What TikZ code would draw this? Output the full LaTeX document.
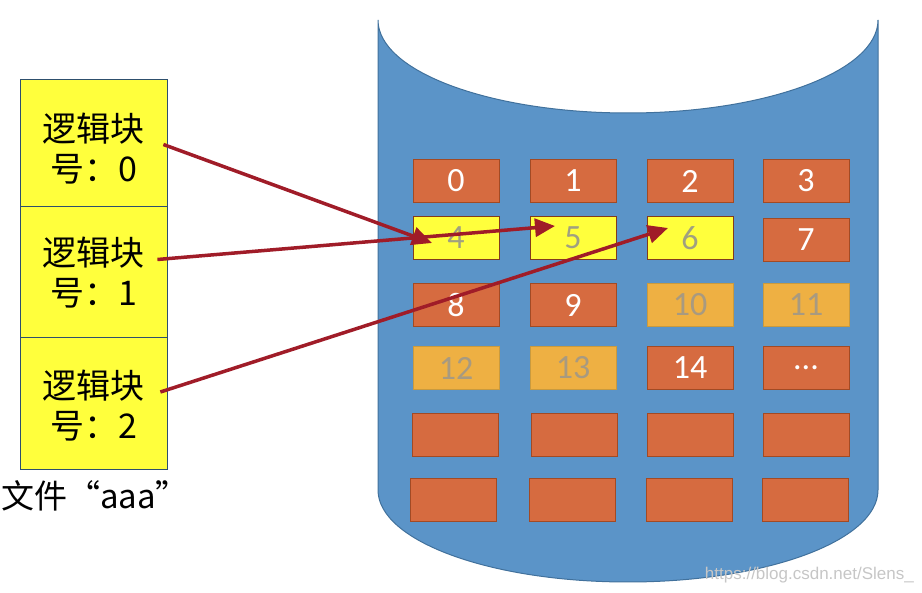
\documentclass[tikz,border=0pt]{standalone}
\usepackage{fontspec}
\setmainfont{Carlito}
\newfontfamily\cjk{Noto Sans CJK SC}
\usetikzlibrary{arrows.meta}
\definecolor{cylfill}{HTML}{5B94C8}
\definecolor{cylline}{HTML}{41719C}
\definecolor{dorange}{HTML}{D66B40}
\definecolor{dorline}{HTML}{A24A24}
\definecolor{lorange}{HTML}{EEB043}
\definecolor{lorline}{HTML}{C99A3E}
\definecolor{yfill}{HTML}{FFFF3C}
\definecolor{ytext}{HTML}{A0A080}
\definecolor{ltext}{HTML}{A89A80}
\definecolor{arrowred}{HTML}{A01C28}
\tikzset{
  blk/.style={minimum width=86pt, minimum height=43pt, inner sep=0pt, line width=1pt, font=\fontsize{34}{36}\selectfont},
  dblk/.style={blk, fill=dorange, draw=dorline, text=white},
  yblk/.style={blk, fill=yfill, draw=dorline!80!black, text=ytext},
  lblk/.style={blk, fill=lorange, draw=lorline, text=ltext},
  lbox/.style={fill=yfill, draw=cylline!70!black, line width=0.8pt, minimum width=147pt, inner sep=0pt},
  ltext/.style={inner sep=0pt, align=center, font=\cjk\fontsize{34}{40}\selectfont},
  link/.style={draw=arrowred, line width=3.5pt, -{Triangle[length=20pt,width=18pt]}}
}
\begin{document}
\begin{tikzpicture}[x=1pt,y=-1pt]
\useasboundingbox (0,0) rectangle (922,593);
% cylinder
\fill[cylfill] (378,20) -- (378,490) arc[start angle=180,end angle=0,x radius=250,y radius=92] -- (878,20) arc[start angle=0,end angle=180,x radius=250,y radius=93] -- cycle;
\draw[cylline, line width=1pt] (378,20) -- (378,490) arc[start angle=180,end angle=0,x radius=250,y radius=92] -- (878,20) arc[start angle=0,end angle=180,x radius=250,y radius=93] -- cycle;
% blocks
\node[dblk] (b0) at (456,181) {0};
\node[dblk] (b1) at (573,181) {1};
\node[dblk] (b2) at (690,181) {2};
\node[dblk] (b3) at (806,181) {3};
\node[yblk] (b4) at (456,238) {4};
\node[yblk] (b5) at (573,238) {5};
\node[yblk] (b6) at (690,238) {6};
\node[dblk] (b7) at (806,240) {7};
\node[dblk] (b8) at (456,305) {8};
\node[dblk] (b9) at (573,305) {9};
\node[lblk] (b10) at (690,305) {10};
\node[lblk] (b11) at (806,305) {11};
\node[lblk] (b12) at (456,368) {12};
\node[lblk] (b13) at (573,368) {13};
\node[dblk] (b14) at (690,368) {14};
\node[dblk] (b15) at (806,368) {...};
\node[dblk] (b16) at (455,435) {};
\node[dblk] (b17) at (574,435) {};
\node[dblk] (b18) at (690,435) {};
\node[dblk] (b19) at (806,435) {};
\node[dblk] (b20) at (453,500) {};
\node[dblk] (b21) at (572,500) {};
\node[dblk] (b22) at (689,500) {};
\node[dblk] (b23) at (805,500) {};
% left file boxes
\node[lbox, minimum height=127pt] (l0) at (93.5,142.5) {};
\node[lbox, minimum height=131pt] (l1) at (93.5,271.5) {};
\node[lbox, minimum height=132pt] (l2) at (93.5,403) {};
\node[ltext] (t0) at ([yshift=-6pt]l0.center) {逻辑块\\号：0};
\node[ltext] (t1) at ([yshift=-1pt]l1.center) {逻辑块\\号：1};
\node[ltext] (t2) at ([yshift=-3pt]l2.center) {逻辑块\\号：2};
\node[font=\cjk\fontsize{33}{35}\selectfont, inner sep=0pt] (fname) at (95,496) {文件“aaa”};
% arrows
\coordinate (s0) at ([xshift=-4pt,yshift=-2pt]l0.east);
\coordinate (s1) at ([xshift=-10pt,yshift=12pt]l1.east);
\coordinate (s2) at ([xshift=-7pt,yshift=11pt]l2.east);
\coordinate (e0) at ([xshift=-24pt,yshift=-5pt]b4.center);
\coordinate (e1) at ([xshift=-18pt,yshift=12pt]b5.center);
\coordinate (e2) at ([xshift=-22pt,yshift=10pt]b6.center);
\draw[link] (s0) -- (e0);
\draw[link] (s1) -- (e1);
\draw[link] (s2) -- (e2);
% watermark
\node[font=\fontspec{Liberation Sans}\fontsize{17}{18}\selectfont, text=gray!45, anchor=east, inner sep=0pt] (wm) at (914,575) {https://blog.csdn.net/Slens\_};
\end{tikzpicture}
\end{document}
